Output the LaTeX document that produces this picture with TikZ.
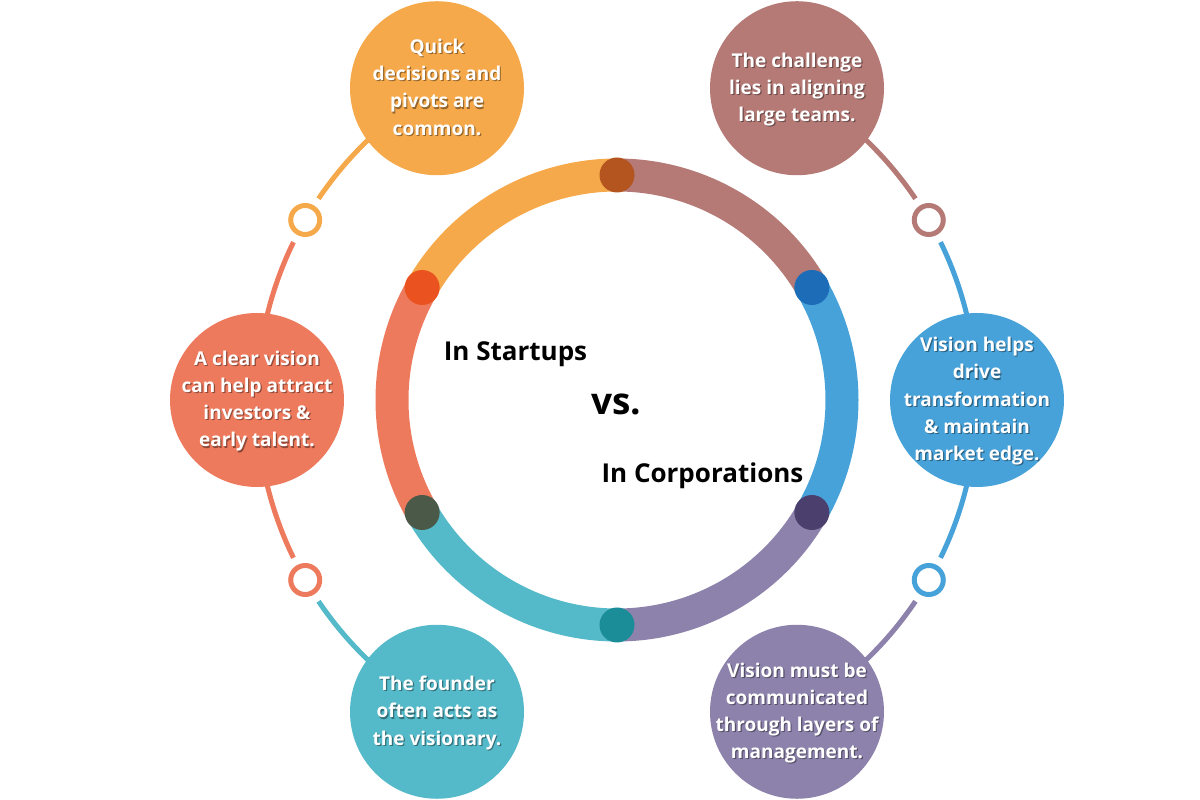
\documentclass[tikz,border=0pt]{standalone}
\usepackage{fontspec}
\setmainfont{Open Sans}
\usetikzlibrary{calc,backgrounds}
\definecolor{cOrange}{HTML}{F6A94A}
\definecolor{cRose}{HTML}{B57A76}
\definecolor{cCoral}{HTML}{EE7A5D}
\definecolor{cBlue}{HTML}{47A2D9}
\definecolor{cTeal}{HTML}{54B9C8}
\definecolor{cPurple}{HTML}{8D82AB}
\definecolor{dTop}{HTML}{B4541F}
\definecolor{dUR}{HTML}{1C6CB8}
\definecolor{dLR}{HTML}{4A3F6D}
\definecolor{dBot}{HTML}{1B8D99}
\definecolor{dLL}{HTML}{4A5948}
\definecolor{dUL}{HTML}{EA521F}
% white text with a soft darker shadow, taking no room so the bubble keeps its size
\newcommand\shtxt[2]{\smash{\makebox[0pt]{\raisebox{-5pt}{\rlap{\kern1.2pt\raisebox{-1.2pt}{\color{#1!60!black}\begin{tabular}{@{}c@{}}#2\end{tabular}}}\begin{tabular}{@{}c@{}}#2\end{tabular}}}}}
\begin{document}
\begin{tikzpicture}[x=1pt,y=1pt,
  bubble/.style={circle, minimum size=174pt, inner sep=0pt, text=white, align=center,
    font=\bfseries\fontsize{19}{27.2}\selectfont},
  hub/.style={circle, minimum size=29pt, inner sep=0pt, line width=5pt, fill=white},
  joint/.style={circle, minimum size=35pt, inner sep=0pt},
  link/.style={line width=5pt},
  seg/.style={line width=33pt},
  title/.style={font=\bfseries\fontsize{26}{30}\selectfont, anchor=base, text=black}]
\useasboundingbox (0,0) rectangle (1200,800);
\coordinate (c) at (617,400);

% outer bubbles
\node[bubble, fill=cOrange] (q) at ($(c)+(120:360)$) {\shtxt{cOrange}{Quick\\decisions and\\pivots are\\common.}};
\node[bubble, fill=cRose] (r) at ($(c)+(60:360)$) {\shtxt{cRose}{The challenge\\lies in aligning\\large teams.}};
\node[bubble, fill=cCoral] (l) at ($(c)+(180:360)$) {\shtxt{cCoral}{A clear vision\\can help attract\\investors \&\\early talent.}};
\node[bubble, fill=cBlue] (b) at ($(c)+(0:360)$) {\shtxt{cBlue}{Vision helps\\drive\\transformation\\\& maintain\\market edge.}};
\node[bubble, fill=cTeal] (t) at ($(c)+(240:360)$) {\shtxt{cTeal}{The founder\\often acts as\\the visionary.}};
\node[bubble, fill=cPurple] (p) at ($(c)+(300:360)$) {\shtxt{cPurple}{Vision must be\\communicated\\through layers of\\management.}};

% small hub rings
\node[hub, draw=cOrange] (h150) at ($(c)+(150:360)$) {};
\node[hub, draw=cCoral] (h210) at ($(c)+(210:360)$) {};
\node[hub, draw=cRose] (h30) at ($(c)+(30:360)$) {};
\node[hub, draw=cBlue] (h330) at ($(c)+(330:360)$) {};

% joints on the ring
\node[joint, fill=dTop] (j90) at ($(c)+(90:225)$) {};
\node[joint, fill=dUL] (j150) at ($(c)+(150:225)$) {};
\node[joint, fill=dLL] (j210) at ($(c)+(210:225)$) {};
\node[joint, fill=dBot] (j270) at ($(c)+(270:225)$) {};
\node[joint, fill=dLR] (j330) at ($(c)+(330:225)$) {};
\node[joint, fill=dUR] (j30) at ($(c)+(30:225)$) {};

% centre labels
\node[title] (s) at (515.5,439) {In Startups};
\node[title, font=\bfseries\fontsize{37}{40}\selectfont] (v) at (616,385) {vs.};
\node[title] (k) at (702.5,317) {In Corporations};

\begin{scope}[on background layer]
  % ring segments
  \draw[seg, cOrange] (j90.center) arc[start angle=90, end angle=150, radius=225];
  \draw[seg, cCoral] (j150.center) arc[start angle=150, end angle=210, radius=225];
  \draw[seg, cTeal] (j210.center) arc[start angle=210, end angle=270, radius=225];
  \draw[seg, cPurple] (j270.center) arc[start angle=270, end angle=330, radius=225];
  \draw[seg, cBlue] (j330.center) arc[start angle=330, end angle=390, radius=225];
  \draw[seg, cRose] (j30.center) arc[start angle=30, end angle=90, radius=225];
  % connectors
  \draw[link, cOrange] (q.center) arc[start angle=120, end angle=146, radius=360];
  \draw[link, cCoral] (l.center) arc[start angle=180, end angle=154, radius=360]
                      (l.center) arc[start angle=180, end angle=206, radius=360];
  \draw[link, cTeal] (t.center) arc[start angle=240, end angle=214, radius=360];
  \draw[link, cRose] (r.center) arc[start angle=60, end angle=34, radius=360];
  \draw[link, cBlue] (b.center) arc[start angle=0, end angle=26, radius=360]
                     (b.center) arc[start angle=0, end angle=-26, radius=360];
  \draw[link, cPurple] (p.center) arc[start angle=300, end angle=326, radius=360];
\end{scope}
\end{tikzpicture}
\end{document}
